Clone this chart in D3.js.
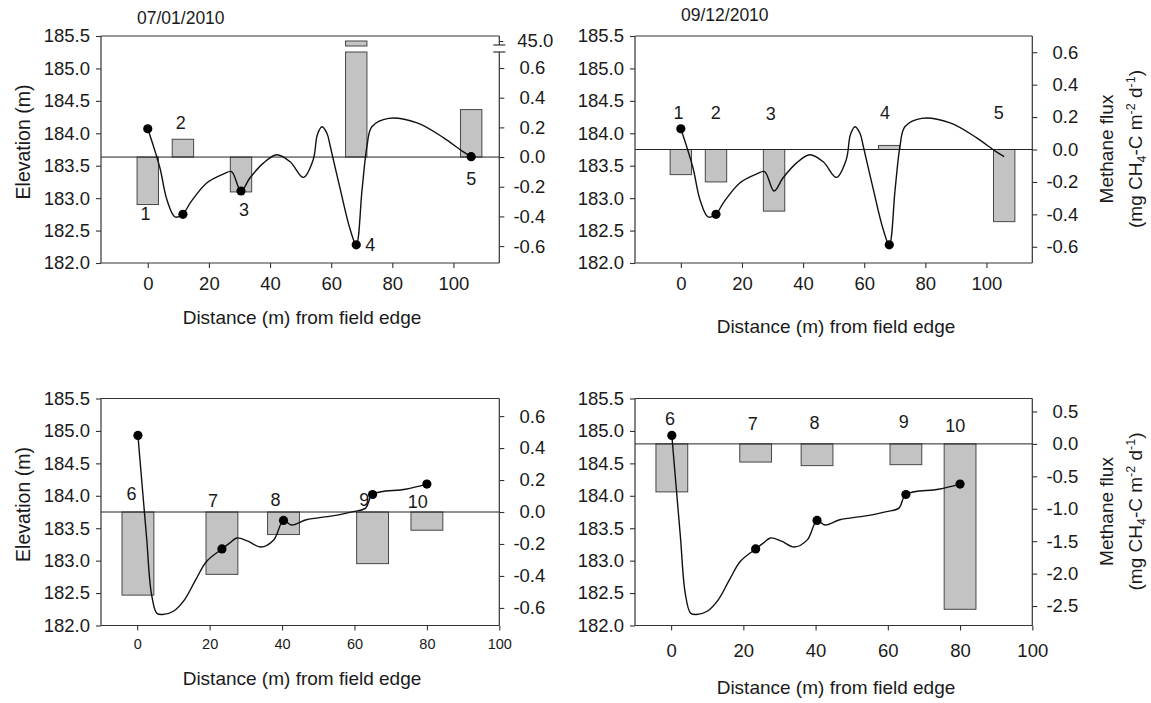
<!DOCTYPE html>
<html>
<head>
<meta charset="utf-8">
<script src="https://cdn.jsdelivr.net/npm/d3@7"></script>
<style>
  body { margin: 0; background: #fff; }
  svg text { font-family: "Liberation Sans", Arial, sans-serif; fill: #1a1a1a; }
</style>
</head>
<body>
<svg id="chart" width="1151" height="703"></svg>
<script>
// ---- data ----
// transect A (sites 1-5)
const sitesA = ['1', '2', '3', '4', '5'];
const sampleXA = [0, 11.5, 30.5, 68.2, 105.8];
const profileXA = [0, 3.9, 6.3, 8.9, 11.5, 13.8, 19.2, 24.7, 27.4, 30.5, 33.4, 37.8, 42.2, 46.6, 50.9, 54.1, 55.5, 57.0, 58.6, 59.7, 63.0, 66.2, 68.2, 70.1, 71.7, 73.3, 78.8, 88.1, 96.8, 103, 105.8];
const profileElevA = [184.07, 183.48, 182.97, 182.71, 182.75, 182.92, 183.23, 183.37, 183.41, 183.11, 183.31, 183.54, 183.67, 183.56, 183.32, 183.59, 183.98, 184.1, 184.0, 183.8, 183.13, 182.52, 182.28, 183.13, 183.8, 184.1, 184.23, 184.16, 183.93, 183.72, 183.64];
const sampleElevA = [184.07, 182.75, 183.11, 182.28, 183.64];

// transect B (sites 6-10)
const sitesB = ['6', '7', '8', '9', '10'];
const sampleXB = [0.2, 23.4, 40.4, 65.0, 80.0];
const profileXB = [0.2, 1.3, 2.6, 3.9, 5.4, 7.0, 10.0, 13.1, 16.1, 19.2, 23.4, 25.5, 27.5, 30.6, 34.1, 37.7, 40.4, 42.6, 46.7, 53.9, 60, 63.1, 65.0, 74.1, 80];
const profileElevB = [184.93, 184.2, 183.35, 182.5, 182.19, 182.17, 182.22, 182.4, 182.7, 182.99, 183.18, 183.27, 183.35, 183.3, 183.21, 183.32, 183.62, 183.55, 183.63, 183.69, 183.76, 183.81, 184.02, 184.1, 184.18];
const sampleElevB = [184.93, 183.18, 183.62, 184.02, 184.18];

// methane flux (mg CH4-C m-2 d-1)
const fluxA0701 = [-0.32, 0.12, -0.235, 45.0, 0.32];
const fluxA0912 = [-0.155, -0.20, -0.38, 0.025, -0.445];
const fluxB0701 = [-0.52, -0.39, -0.141, -0.323, -0.114];
const fluxB0912 = [-0.74, -0.28, -0.335, -0.32, -2.55];

// site number labels (distance, elevation)
const labelXA0701 = [-0.7, 10.8, 31.5, 72.8, 105.8];
const labelElevA0701 = [182.75, 184.16, 182.81, 182.27, 183.3];
const labelXA0912 = [-0.8, 11.4, 29.4, 66.8, 104];
const labelElevA0912 = [184.32, 184.32, 184.3, 184.32, 184.32];
const labelXB0701 = [-1.6, 20.9, 38.2, 62.7, 77.5];
const labelElevB0701 = [184.02, 183.92, 183.94, 183.94, 183.91];
const labelXB0912 = [-0.3, 22.6, 39.7, 64.4, 78.7];
const labelElevB0912 = [185.19, 185.11, 185.12, 185.13, 185.08];

// ticks
const elevDomain = [182, 185.5];
const elevTicks = [182.0, 182.5, 183.0, 183.5, 184.0, 184.5, 185.0, 185.5];
const distTicks = [0, 20, 40, 60, 80, 100];
const fluxTicksSmall = [-0.6, -0.4, -0.2, 0.0, 0.2, 0.4, 0.6];
const fluxTicksLarge = [-2.5, -2.0, -1.5, -1.0, -0.5, 0.0, 0.5];
const breakTicks = [45.0];
const breakDomain = [44.5, 45.5];

const svg = d3.select('#chart');
// plain hyphen minus like the original figure
const fmt = d3.formatLocale({ decimal: '.', thousands: ',', grouping: [3], currency: ['', ''], minus: '-' }).format('.1f');

const panels = [
  { left: 101, top: 36, width: 398.3, height: 227, xDomain: [-15.3, 115], fluxDomain: [-0.714, 0.708],
    sites: sitesA, sampleX: sampleXA, sampleElev: sampleElevA, profX: profileXA, profElev: profileElevA,
    flux: fluxA0701, dots: [0, 1, 2, 3, 4], labelX: labelXA0701, labelElev: labelElevA0701,
    fluxTicks: fluxTicksSmall, barWidth: 7, broken: true, title: '07/01/2010', titleX: 137, titleY: 24,
    elevTitle: true, fluxTitle: false, xFont: 18.5, xPad: 9, xTitleX: 302, xTitleY: 324 },
  { left: 635, top: 36, width: 397.3, height: 227, xDomain: [-15, 115], fluxDomain: [-0.7, 0.7],
    sites: sitesA, sampleX: sampleXA, sampleElev: sampleElevA, profX: profileXA, profElev: profileElevA,
    flux: fluxA0912, dots: [0, 1, 3], labelX: labelXA0912, labelElev: labelElevA0912,
    fluxTicks: fluxTicksSmall, barWidth: 7, broken: false, title: '09/12/2010', titleX: 681, titleY: 21,
    elevTitle: false, fluxTitle: true, xFont: 18.5, xPad: 9, xTitleX: 836, xTitleY: 333 },
  { left: 101, top: 398.5, width: 398.3, height: 227, xDomain: [-10, 100], fluxDomain: [-0.71, 0.71],
    sites: sitesB, sampleX: sampleXB, sampleElev: sampleElevB, profX: profileXB, profElev: profileElevB,
    flux: fluxB0701, dots: [0, 1, 2, 3, 4], labelX: labelXB0701, labelElev: labelElevB0701,
    fluxTicks: fluxTicksSmall, barWidth: 8.8, broken: false, title: null,
    elevTitle: true, fluxTitle: false, xFont: 14.5, xPad: 8, xTitleX: 302, xTitleY: 685 },
  { left: 635, top: 398.5, width: 397.3, height: 227, xDomain: [-10, 100], fluxDomain: [-2.8, 0.7],
    sites: sitesB, sampleX: sampleXB, sampleElev: sampleElevB, profX: profileXB, profElev: profileElevB,
    flux: fluxB0912, dots: [0, 1, 2, 3, 4], labelX: labelXB0912, labelElev: labelElevB0912,
    fluxTicks: fluxTicksLarge, barWidth: 8.8, broken: false, title: null,
    elevTitle: false, fluxTitle: true, xFont: 18.5, xPad: 13, xTitleX: 836, xTitleY: 694 }
];

panels.forEach(drawPanel);

function drawPanel(p) {
  var w = p.width, h = p.height;
  var g = svg.append('g').attr('transform', `translate(${p.left},${p.top})`);

  var x = d3.scaleLinear().domain(p.xDomain).range([0, w]);
  var yE = d3.scaleLinear().domain(elevDomain).range([h, 0]);
  // broken right axis: lower part stops 16px below the top, upper part holds 45.0
  var lowTop = p.broken ? 16 : 0;
  var yF = d3.scaleLinear().domain(p.fluxDomain).range([h, lowTop]);
  var yUp = d3.scaleLinear().domain(breakDomain).range([10, 0]);
  var fMax = p.fluxDomain[1];

  var barData = p.flux.map((v, i) => ({ x: p.sampleX[i], v: v }));

  // bars
  var barG = g.append('g');
  barG.selectAll('rect.low').data(barData).join('rect')
    .attr('class', 'low')
    .attr('x', d => x(d.x - p.barWidth / 2))
    .attr('width', d => x(d.x + p.barWidth / 2) - x(d.x - p.barWidth / 2))
    .attr('y', d => yF(Math.min(Math.max(d.v, 0), fMax)))
    .attr('height', d => Math.abs(yF(Math.min(d.v, fMax)) - yF(0)))
    .attr('fill', '#c3c3c3')
    .attr('stroke', '#474747')
    .attr('stroke-width', 1);

  barG.selectAll('rect.up').data(barData.filter(d => d.v > fMax)).join('rect')
    .attr('class', 'up')
    .attr('x', d => x(d.x - p.barWidth / 2))
    .attr('width', d => x(d.x + p.barWidth / 2) - x(d.x - p.barWidth / 2))
    .attr('y', d => yUp(d.v))
    .attr('height', d => yUp(breakDomain[0]) - yUp(d.v))
    .attr('fill', '#c3c3c3')
    .attr('stroke', '#474747')
    .attr('stroke-width', 1);

  // zero flux line
  g.append('line')
    .attr('x1', 0).attr('x2', w)
    .attr('y1', yF(0)).attr('y2', yF(0))
    .attr('stroke', '#222').attr('stroke-width', 1);

  // elevation profile
  var line = d3.line()
    .x(d => x(d[0]))
    .y(d => yE(d[1]))
    .curve(d3.curveCatmullRom.alpha(0.5));

  g.append('path')
    .datum(d3.zip(p.profX, p.profElev))
    .attr('d', line)
    .attr('fill', 'none')
    .attr('stroke', '#111')
    .attr('stroke-width', 1.4);

  g.append('g').selectAll('circle').data(p.dots).join('circle')
    .attr('cx', i => x(p.sampleX[i]))
    .attr('cy', i => yE(p.sampleElev[i]))
    .attr('r', 4.6)
    .attr('fill', '#000');

  // site numbers
  g.append('g').selectAll('text').data(p.sites).join('text')
    .attr('x', (s, i) => x(p.labelX[i]))
    .attr('y', (s, i) => yE(p.labelElev[i]))
    .attr('text-anchor', 'middle')
    .attr('dominant-baseline', 'central')
    .attr('font-size', 18)
    .text(s => s);

  // axes
  var leftAxis = g.append('g')
    .call(d3.axisLeft(yE).tickValues(elevTicks).tickFormat(fmt).tickSize(5).tickPadding(6));
  styleAxis(leftAxis, 18.5);

  var bottomAxis = g.append('g')
    .attr('transform', `translate(0,${h})`)
    .call(d3.axisBottom(x).tickValues(distTicks).tickSize(5).tickPadding(p.xPad));
  styleAxis(bottomAxis, p.xFont);

  var rightAxis = g.append('g')
    .attr('transform', `translate(${w},0)`)
    .call(d3.axisRight(yF).tickValues(p.fluxTicks).tickFormat(fmt).tickSize(5).tickPadding(6));
  styleAxis(rightAxis, 18.5);
  rightAxis.selectAll('text').attr('text-anchor', 'end').attr('x', 46);

  if (p.broken) {
    var upAxis = g.append('g')
      .attr('transform', `translate(${w},0)`)
      .call(d3.axisRight(yUp).tickValues(breakTicks).tickFormat(fmt).tickSize(4).tickPadding(14));
    styleAxis(upAxis, 18.5);
  }

  // frame
  var frame = g.append('g').attr('stroke', '#333').attr('stroke-width', 1.2);
  frame.append('line').attr('x1', 0).attr('x2', w).attr('y1', 0).attr('y2', 0);
  frame.append('line').attr('x1', 0).attr('x2', w).attr('y1', h).attr('y2', h);
  frame.append('line').attr('x1', 0).attr('x2', 0).attr('y1', 0).attr('y2', h);
  if (p.broken) {
    frame.append('line').attr('x1', w).attr('x2', w).attr('y1', 0).attr('y2', 9);
    frame.append('line').attr('x1', w).attr('x2', w).attr('y1', lowTop).attr('y2', h);
    [9, lowTop].forEach(yy => {
      frame.append('line').attr('x1', w - 6).attr('x2', w + 6).attr('y1', yy).attr('y2', yy);
    });
  } else {
    frame.append('line').attr('x1', w).attr('x2', w).attr('y1', 0).attr('y2', h);
  }

  // titles
  if (p.title) {
    svg.append('text')
      .attr('x', p.titleX).attr('y', p.titleY)
      .attr('font-size', 17.5)
      .text(p.title);
  }

  svg.append('text')
    .attr('x', p.xTitleX).attr('y', p.xTitleY)
    .attr('text-anchor', 'middle')
    .attr('font-size', 19)
    .text('Distance (m) from field edge');

  var midY = p.top + 106;

  if (p.elevTitle) {
    svg.append('text')
      .attr('transform', `translate(30,${midY}) rotate(-90)`)
      .attr('text-anchor', 'middle')
      .attr('font-size', 19.5)
      .text('Elevation (m)');
  }

  if (p.fluxTitle) {
    var cx = p.left + w;
    svg.append('text')
      .attr('transform', `translate(${cx + 81},${p.top + 113}) rotate(-90)`)
      .attr('text-anchor', 'middle')
      .attr('font-size', 19)
      .text('Methane flux');

    var t = svg.append('text')
      .attr('transform', `translate(${cx + 110},${p.top + 113}) rotate(-90)`)
      .attr('text-anchor', 'middle')
      .attr('font-size', 19);
    t.append('tspan').text('(mg CH');
    t.append('tspan').attr('dy', 4).attr('font-size', 12.5).text('4');
    t.append('tspan').attr('dy', -4).text('-C m');
    t.append('tspan').attr('dy', -7).attr('font-size', 12.5).text('-2');
    t.append('tspan').attr('dy', 7).text(' d');
    t.append('tspan').attr('dy', -7).attr('font-size', 12.5).text('-1');
    t.append('tspan').attr('dy', 7).text(')');
  }
}

function styleAxis(sel, size) {
  sel.select('.domain').remove();
  sel.selectAll('.tick line').attr('stroke', '#333').attr('stroke-width', 1.1);
  sel.selectAll('.tick text')
    .attr('fill', '#1a1a1a')
    .attr('font-size', size)
    .attr('font-family', '"Liberation Sans", Arial, sans-serif');
}
</script>
</body>
</html>
